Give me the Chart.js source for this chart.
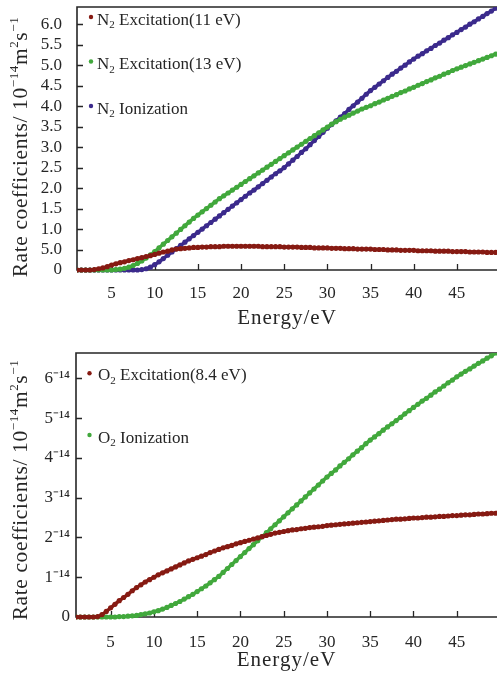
<!DOCTYPE html>
<html>
<head>
<meta charset="utf-8">
<script src="https://cdn.jsdelivr.net/npm/chart.js@4.4.1/dist/chart.umd.min.js"></script>
<style>
  html, body { margin: 0; padding: 0; background: #fff; overflow: hidden; }
  .panel { position: relative; width: 497px; }
  canvas { display: block; }
</style>
</head>
<body>
<div class="panel" style="height:330px"><canvas id="n2" width="497" height="330"></canvas></div>
<div class="panel" style="height:344px"><canvas id="o2" width="497" height="344"></canvas></div>
<script>
// Electron energy grid (eV)
const energy = [
  1, 1.5, 2, 2.5, 3, 3.5, 4, 4.5, 5, 5.5,
  6, 6.5, 7, 7.5, 8, 8.5, 9, 9.5, 10, 10.5,
  11, 11.5, 12, 12.5, 13, 13.5, 14, 14.5, 15, 15.5,
  16, 16.5, 17, 17.5, 18, 18.5, 19, 19.5, 20, 20.5,
  21, 21.5, 22, 22.5, 23, 23.5, 24, 24.5, 25, 25.5,
  26, 26.5, 27, 27.5, 28, 28.5, 29, 29.5, 30, 30.5,
  31, 31.5, 32, 32.5, 33, 33.5, 34, 34.5, 35, 35.5,
  36, 36.5, 37, 37.5, 38, 38.5, 39, 39.5, 40, 40.5,
  41, 41.5, 42, 42.5, 43, 43.5, 44, 44.5, 45, 45.5,
  46, 46.5, 47, 47.5, 48, 48.5, 49, 49.5, 50
];

// N2 rate coefficients (10^-14 m^2 s^-1)
const n2Exc11 = [
  0, 0, 0, 0, 0.01, 0.03, 0.05, 0.08, 0.12, 0.15,
  0.18, 0.20, 0.23, 0.25, 0.28, 0.30, 0.33, 0.35, 0.38, 0.41,
  0.44, 0.46, 0.49, 0.51, 0.52, 0.53, 0.54, 0.55, 0.55, 0.56,
  0.56, 0.57, 0.57, 0.57, 0.58, 0.58, 0.58, 0.58, 0.58, 0.58,
  0.58, 0.58, 0.58, 0.57, 0.57, 0.57, 0.57, 0.57, 0.56, 0.56,
  0.56, 0.56, 0.55, 0.55, 0.55, 0.54, 0.54, 0.54, 0.54, 0.53,
  0.53, 0.53, 0.52, 0.52, 0.52, 0.51, 0.51, 0.51, 0.51, 0.50,
  0.50, 0.50, 0.49, 0.49, 0.49, 0.48, 0.48, 0.48, 0.48, 0.47,
  0.47, 0.47, 0.47, 0.46, 0.46, 0.46, 0.46, 0.45, 0.45, 0.45,
  0.45, 0.44, 0.44, 0.44, 0.44, 0.43, 0.43, 0.43, 0.43
];
const n2Exc13 = [
  0, 0, 0, 0, 0, 0, 0, 0, 0, 0.01,
  0.02, 0.04, 0.07, 0.11, 0.16, 0.22, 0.29, 0.37, 0.45, 0.54,
  0.63, 0.72, 0.81, 0.90, 0.99, 1.08, 1.17, 1.26, 1.34, 1.42,
  1.50, 1.58, 1.66, 1.74, 1.81, 1.88, 1.95, 2.02, 2.09, 2.16,
  2.23, 2.30, 2.37, 2.44, 2.51, 2.58, 2.65, 2.72, 2.79, 2.86,
  2.93, 3.00, 3.07, 3.14, 3.21, 3.28, 3.35, 3.42, 3.49, 3.56,
  3.62, 3.68, 3.73, 3.78, 3.83, 3.88, 3.93, 3.97, 4.01, 4.06,
  4.10, 4.15, 4.19, 4.24, 4.28, 4.33, 4.37, 4.42, 4.46, 4.51,
  4.55, 4.60, 4.64, 4.69, 4.73, 4.78, 4.82, 4.87, 4.91, 4.95,
  4.99, 5.03, 5.07, 5.11, 5.15, 5.19, 5.23, 5.27, 5.31
];
const n2Ion = [
  0, 0, 0, 0, 0, 0, 0, 0, 0, 0,
  0, 0, 0, 0, 0, 0.01, 0.03, 0.07, 0.13, 0.20,
  0.28, 0.36, 0.44, 0.52, 0.60, 0.68, 0.76, 0.84, 0.92, 1.00,
  1.08, 1.16, 1.24, 1.32, 1.40, 1.48, 1.56, 1.64, 1.72, 1.80,
  1.88, 1.95, 2.03, 2.11, 2.19, 2.27, 2.35, 2.42, 2.50, 2.59,
  2.68, 2.77, 2.87, 2.96, 3.06, 3.16, 3.26, 3.36, 3.46, 3.55,
  3.64, 3.73, 3.82, 3.92, 4.01, 4.10, 4.19, 4.29, 4.38, 4.46,
  4.54, 4.62, 4.70, 4.78, 4.85, 4.93, 5.00, 5.08, 5.15, 5.22,
  5.28, 5.35, 5.41, 5.48, 5.54, 5.61, 5.67, 5.74, 5.80, 5.87,
  5.93, 6.00, 6.06, 6.13, 6.19, 6.26, 6.32, 6.39, 6.45
];

// O2 rate coefficients (10^-14 m^2 s^-1)
const o2Exc84 = [
  0, 0, 0, 0, 0, 0.01, 0.06, 0.14, 0.23, 0.32,
  0.41, 0.49, 0.57, 0.66, 0.74, 0.81, 0.88, 0.94, 1.00, 1.06,
  1.11, 1.16, 1.21, 1.26, 1.31, 1.36, 1.41, 1.45, 1.49, 1.53,
  1.57, 1.62, 1.66, 1.70, 1.74, 1.77, 1.80, 1.84, 1.87, 1.90,
  1.93, 1.96, 1.99, 2.02, 2.05, 2.08, 2.11, 2.13, 2.15, 2.17,
  2.19, 2.20, 2.22, 2.23, 2.25, 2.26, 2.27, 2.28, 2.30, 2.31,
  2.32, 2.33, 2.34, 2.35, 2.36, 2.37, 2.38, 2.39, 2.40, 2.41,
  2.42, 2.43, 2.44, 2.45, 2.46, 2.46, 2.47, 2.48, 2.49, 2.49,
  2.50, 2.51, 2.51, 2.52, 2.53, 2.53, 2.54, 2.55, 2.55, 2.56,
  2.57, 2.57, 2.58, 2.59, 2.59, 2.60, 2.61, 2.61, 2.62
];
const o2Ion = [
  0, 0, 0, 0, 0, 0, 0, 0, 0, 0,
  0.01, 0.01, 0.02, 0.03, 0.04, 0.06, 0.08, 0.10, 0.13, 0.16,
  0.20, 0.24, 0.29, 0.34, 0.39, 0.45, 0.51, 0.57, 0.64, 0.71,
  0.78, 0.86, 0.94, 1.02, 1.12, 1.22, 1.32, 1.42, 1.52, 1.62,
  1.72, 1.82, 1.92, 2.02, 2.12, 2.22, 2.32, 2.42, 2.52, 2.62,
  2.72, 2.82, 2.92, 3.02, 3.12, 3.22, 3.32, 3.42, 3.52, 3.61,
  3.70, 3.80, 3.89, 3.98, 4.08, 4.17, 4.26, 4.36, 4.45, 4.53,
  4.61, 4.70, 4.78, 4.86, 4.94, 5.02, 5.11, 5.19, 5.27, 5.35,
  5.43, 5.50, 5.58, 5.66, 5.73, 5.81, 5.89, 5.96, 6.04, 6.11,
  6.18, 6.24, 6.31, 6.38, 6.44, 6.51, 6.57, 6.64, 6.70
];

// Axis ticks
const xTicks = [5, 10, 15, 20, 25, 30, 35, 40, 45];
const n2YTicks = [0, 0.5, 1, 1.5, 2, 2.5, 3, 3.5, 4, 4.5, 5, 5.5, 6];
const n2YLabels = ['0', '5.0', '1.0', '1.5', '2.0', '2.5', '3.0', '3.5', '4.0', '4.5', '5.0', '5.5', '6.0'];
const o2YTicks = [0, 1, 2, 3, 4, 5, 6];
const o2YLabels = ['0', '1\u207B\u00B9\u2074', '2\u207B\u00B9\u2074', '3\u207B\u00B9\u2074', '4\u207B\u00B9\u2074', '5\u207B\u00B9\u2074', '6\u207B\u00B9\u2074'];

const RED = '#861a12';
const GREEN = '#41a83c';
const PURPLE = '#3b2a8c';
const INK = '#262626';
const SERIF = '"Liberation Serif", "Times New Roman", serif';

// rich text: parts of {t, sup, sub}
function drawRich(ctx, parts, x, baseY, size, align) {
  const fontFor = p => (p.sup || p.sub ? Math.round(size * 0.62) : size) + 'px ' + SERIF;
  let total = 0;
  parts.forEach(p => { ctx.font = fontFor(p); total += ctx.measureText(p.t).width; });
  let cx = align === 'center' ? x - total / 2 : x;
  ctx.textAlign = 'left';
  ctx.textBaseline = 'alphabetic';
  parts.forEach(p => {
    ctx.font = fontFor(p);
    const dy = p.sup ? -size * 0.42 : (p.sub ? size * 0.22 : 0);
    ctx.fillText(p.t, cx, baseY + dy);
    cx += ctx.measureText(p.t).width;
  });
}

const yTitleParts = [
  { t: 'Rate coefficients/ 10' }, { t: '\u221214', sup: true },
  { t: 'm' }, { t: '2', sup: true }, { t: 's' }, { t: '\u22121', sup: true }
];

const decor = {
  id: 'decor',
  beforeDatasetsDraw(chart, args, o) {
    const { ctx, chartArea: a, scales: { x, y } } = chart;
    ctx.save();
    ctx.strokeStyle = INK;
    ctx.lineWidth = 1.6;
    ctx.beginPath();
    ctx.moveTo(chart.width + 2, a.top);
    ctx.lineTo(a.left, a.top);
    ctx.lineTo(a.left, a.bottom);
    ctx.lineTo(chart.width + 2, a.bottom);
    ctx.stroke();
    ctx.lineWidth = 1.3;
    ctx.beginPath();
    x.ticks.forEach(t => {
      const px = Math.round(x.getPixelForValue(t.value)) + 0.5;
      ctx.moveTo(px, a.bottom); ctx.lineTo(px, a.bottom - 6);
    });
    y.ticks.forEach(t => {
      const py = Math.round(y.getPixelForValue(t.value)) + 0.5;
      ctx.moveTo(a.left, py); ctx.lineTo(a.left + 6, py);
    });
    ctx.stroke();
    ctx.restore();
  },
  afterDraw(chart, args, o) {
    const { ctx, chartArea: a } = chart;
    ctx.save();
    ctx.fillStyle = INK;
    // legend
    chart.data.datasets.forEach((ds, i) => {
      const row = o.rows[i];
      ctx.fillStyle = ds.borderColor;
      ctx.beginPath();
      ctx.arc(a.left + o.dotX, a.top + row.dot, 2.2, 0, Math.PI * 2);
      ctx.fill();
      ctx.fillStyle = INK;
      drawRich(ctx, ds.legendParts, a.left + o.textX, a.top + row.base, 17, 'left');
    });
    // x title
    ctx.fillStyle = INK;
    ctx.letterSpacing = '1px';
    drawRich(ctx, [{ t: 'Energy/eV' }], (a.left + a.right) / 2, o.xTitleBase, 21, 'center');
    // y title
    ctx.translate(o.yTitleBase, o.yTitleCenter);
    ctx.rotate(-Math.PI / 2);
    ctx.letterSpacing = '0.6px';
    drawRich(ctx, yTitleParts, 0, 0, 21.5, 'center');
    ctx.restore();
  }
};

function series(values, label, parts, color) {
  return {
    label: label,
    legendParts: parts,
    data: energy.map((e, i) => ({ x: e, y: values[i] })),
    borderColor: color,
    backgroundColor: color,
    pointBackgroundColor: color,
    borderWidth: 3.4,
    pointRadius: 2.6,
    pointBorderWidth: 0,
    tension: 0.3,
    clip: { left: 0, top: 0, right: 0, bottom: 4 }
  };
}

function build(id, cfg) {
  return new Chart(document.getElementById(id), {
    type: 'line',
    data: { datasets: cfg.datasets },
    options: {
      responsive: false,
      animation: false,
      devicePixelRatio: 1,
      layout: { padding: { top: cfg.top, left: 0, right: 0, bottom: 0 }, autoPadding: false },
      plugins: { legend: { display: false }, tooltip: { enabled: false }, decor: cfg.decor },
      scales: {
        x: {
          type: 'linear', min: 1, max: 49.65,
          grid: { display: false, drawTicks: false }, border: { display: false },
          afterBuildTicks: s => { s.ticks = xTicks.map(v => ({ value: v })); },
          afterFit: s => { s.height = cfg.xHeight; s.paddingLeft = 0; s.paddingRight = 0; },
          ticks: { color: INK, padding: cfg.xPad, maxRotation: 0, autoSkip: false,
                   font: { family: SERIF, size: 17 } }
        },
        y: {
          type: 'linear', min: 0, max: cfg.yMax,
          grid: { display: false, drawTicks: false }, border: { display: false },
          afterBuildTicks: s => { s.ticks = cfg.yTicks.map(v => ({ value: v })); },
          afterFit: s => { s.width = cfg.yWidth; s.paddingTop = 0; s.paddingBottom = 0; },
          ticks: { color: INK, padding: cfg.yPad, autoSkip: false,
                   font: { family: SERIF, size: 17 },
                   callback: (v, i) => cfg.yLabels[i] }
        }
      }
    },
    plugins: [decor]
  });
}

build('n2', {
  top: 7, xHeight: 60, yWidth: 77, yMax: 6.42, xPad: 13, yPad: 15,
  yTicks: n2YTicks, yLabels: n2YLabels,
  datasets: [
    series(n2Exc11, 'N2 Excitation(11 eV)', [{ t: 'N' }, { t: '2', sub: true }, { t: ' Excitation(11 eV)' }], RED),
    series(n2Exc13, 'N2 Excitation(13 eV)', [{ t: 'N' }, { t: '2', sub: true }, { t: ' Excitation(13 eV)' }], GREEN),
    series(n2Ion, 'N2 Ionization', [{ t: 'N' }, { t: '2', sub: true }, { t: ' Ionization' }], PURPLE)
  ],
  decor: { dotX: 14, textX: 20, rows: [{ dot: 10, base: 17.5 }, { dot: 54.5, base: 62 }, { dot: 99, base: 106.5 }],
           xTitleBase: 324, yTitleBase: 27, yTitleCenter: 147 }
});

build('o2', {
  top: 23, xHeight: 57, yWidth: 76, yMax: 6.64, xPad: 15, yPad: 6,
  yTicks: o2YTicks, yLabels: o2YLabels,
  datasets: [
    series(o2Exc84, 'O2 Excitation(8.4 eV)', [{ t: 'O' }, { t: '2', sub: true }, { t: ' Excitation(8.4 eV)' }], RED),
    series(o2Ion, 'O2 Ionization', [{ t: 'O' }, { t: '2', sub: true }, { t: ' Ionization' }], GREEN)
  ],
  decor: { dotX: 13.5, textX: 22, rows: [{ dot: 20.3, base: 27 }, { dot: 82, base: 89.5 }],
           xTitleBase: 336, yTitleBase: 27, yTitleCenter: 160 }
});
</script>
</body>
</html>
